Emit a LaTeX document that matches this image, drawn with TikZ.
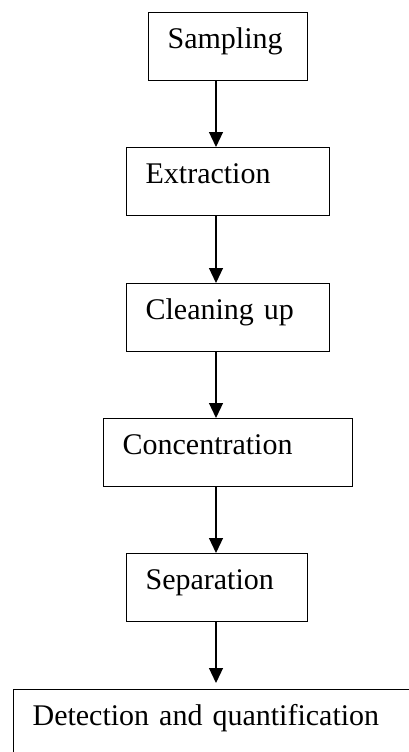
\documentclass[tikz,border=0pt]{standalone}
\usepackage{fontspec}
\setmainfont{Liberation Serif}
\usetikzlibrary{arrows.meta}
\begin{document}
\begin{tikzpicture}[x=1pt,y=-1pt,
  stage/.style={draw,line width=1.2pt,anchor=north west,align=left,
    inner xsep=19pt,inner ysep=0pt,text height=36pt,text depth=32pt,
    font=\fontsize{30}{36}\selectfont},
  flow/.style={line width=1.2pt,-{Triangle[width=14pt,length=15pt]}}]
\useasboundingbox (0,0) rectangle (409,752);
\clip (0,0) rectangle (409,752);
\coordinate (axis) at (216,0);
\node [stage,text width=121pt] (samp) at (148,12) {Sampling};
\node [stage,text width=165pt] (extr) at (126,147) {Extraction};
\node [stage,text width=165pt] (clean) at (126,283) {Cleaning up};
\node [stage,text width=211pt] (conc) at (103,418) {Concentration};
\node [stage,text width=143pt] (sepa) at (126,553) {Separation};
\node [stage,text width=382pt] (dete) at (13,689) {Detection and quantification};
\draw [flow] (samp.south -| axis) -- (extr.north -| axis);
\draw [flow] (extr.south -| axis) -- (clean.north -| axis);
\draw [flow] (clean.south -| axis) -- (conc.north -| axis);
\draw [flow] (conc.south -| axis) -- (sepa.north -| axis);
\draw [flow] (sepa.south -| axis) -- ([yshift=6pt]dete.north -| axis);
\end{tikzpicture}
\end{document}
